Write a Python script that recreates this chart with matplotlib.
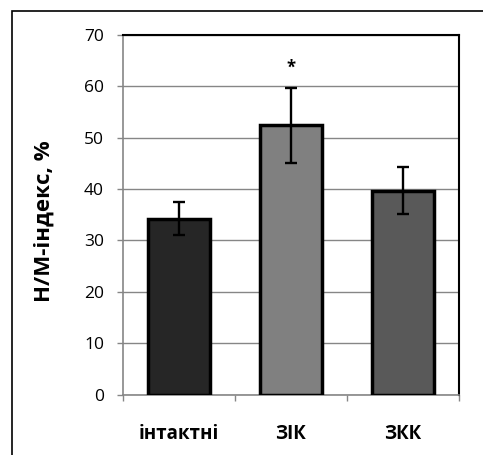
import matplotlib
matplotlib.use("Agg")
import matplotlib.pyplot as plt
from matplotlib.patches import Rectangle

categories = ["інтактні", "ЗІК", "ЗКК"]
values = [34.2, 52.4, 39.7]
errors = [3.2, 7.3, 4.6]
colors = ["#262626", "#808080", "#595959"]
yticks = [0, 10, 20, 30, 40, 50, 60, 70]
ylabel = "Н/М-індекс, %"
marker_text = "*"

plt.rcParams['font.family'] = ['Open Sans', 'DejaVu Sans']

W, H = 483, 455
fig = plt.figure(figsize=(W / 100, H / 100), dpi=100)
ax = fig.add_axes([122.7 / W, 1 - 394.7 / H, (459.3 - 122.7) / W, (394.7 - 34.7) / H])

x = list(range(len(categories)))
ax.bar(x, values, width=0.55, color=colors, edgecolor="black", linewidth=2.5, zorder=3)
ax.errorbar(x, values, yerr=errors, fmt="none", ecolor="black", elinewidth=1.7,
            capsize=4.5, capthick=1.7, zorder=4)
ax.text(x[1], values[1] + errors[1] + 3.8, marker_text, ha="center", va="center",
        fontsize=12, fontweight="bold", zorder=5)

ax.set_xlim(-0.5, len(categories) - 0.5)
ax.set_ylim(0, 70)
ax.set_yticks(yticks)
ax.set_yticklabels([str(t) for t in yticks], fontsize=12.5)
ax.set_xticks([i - 0.5 for i in range(len(categories) + 1)], minor=False)
ax.set_xticklabels([""] * (len(categories) + 1))
ax.set_xticks(x, minor=True)
ax.set_xticklabels(categories, minor=True, fontsize=13.5, fontweight="bold")
ax.tick_params(axis="x", which="minor", length=0, pad=21)
ax.tick_params(axis="x", which="major", length=4.5, width=1, color="#868686")
ax.tick_params(axis="y", length=4.5, width=1, color="#868686", pad=9)

ax.yaxis.grid(True, color="#868686", linewidth=1.0, zorder=0)
ax.set_axisbelow(True)
for s in ["left", "bottom"]:
    ax.spines[s].set_color("#868686")
    ax.spines[s].set_linewidth(1.2)
for s in ["top", "right"]:
    ax.spines[s].set_color("black")
    ax.spines[s].set_linewidth(1.5)

fig.text(44.5 / W, 1 - 221 / H, ylabel, rotation=90, ha="center", va="center",
         fontsize=16, fontweight="bold")

fig.patches.append(Rectangle((12.3 / W, -0.1), 1.2, 1 - 11.3 / H + 0.1,
                             transform=fig.transFigure, fill=False,
                             edgecolor="black", linewidth=1.2))

fig.savefig("out.png", dpi=100)
